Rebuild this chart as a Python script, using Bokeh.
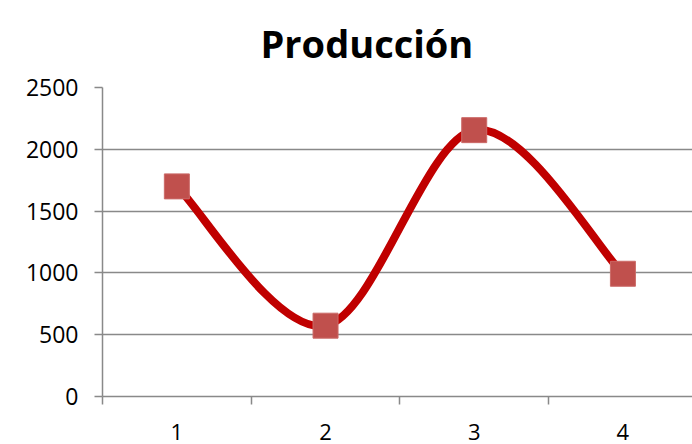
import numpy as np
from bokeh.plotting import figure
from bokeh.models import FixedTicker, Range1d
from bokeh.embed import file_html
from bokeh.resources import INLINE

# ---- data ----
categories = ["1", "2", "3", "4"]
produccion = [1700, 573, 2155, 993]
y_ticks = [0, 500, 1000, 1500, 2000, 2500]
title_text = "Producción"

x = np.arange(1, len(categories) + 1, dtype=float)
y = np.array(produccion, dtype=float)

GRAY = "#898989"
FONT = "Open Sans"

p = figure(width=692, height=444, output_backend="svg", toolbar_location=None,
           x_range=Range1d(0.5, 4.468), y_range=Range1d(0, 2500),
           min_border_left=102, min_border_right=0, min_border_top=86,
           min_border_bottom=48)
p.outline_line_color = None
p.background_fill_color = "white"
p.border_fill_color = "white"

# title
p.title.text = title_text
p.title.text_font = FONT
p.title.text_font_style = "bold"
p.title.text_font_size = "38px"
p.title.text_color = "black"
p.title.align = "left"
p.title.offset = 158
p.title.vertical_align = "top"
p.title.standoff = 33

# grid
p.xgrid.visible = False
p.ygrid.grid_line_color = GRAY
p.ygrid.grid_line_width = 1.5

# y axis
p.yaxis.ticker = FixedTicker(ticks=y_ticks)
p.yaxis.axis_line_color = GRAY
p.yaxis.axis_line_width = 1.5
p.yaxis.major_tick_line_color = GRAY
p.yaxis.major_tick_line_width = 1.5
p.yaxis.major_tick_out = 8
p.yaxis.major_tick_in = 0
p.yaxis.minor_tick_line_color = None
p.yaxis.major_label_text_font = FONT
p.yaxis.major_label_text_font_size = "23px"
p.yaxis.major_label_text_color = "black"
p.yaxis.major_label_standoff = 16

# x axis: labels at categories, tick marks between them
p.xaxis.ticker = FixedTicker(ticks=list(x), minor_ticks=list(np.arange(0.5, len(categories) + 1, 1.0)))
p.xaxis.major_label_overrides = {int(v): c for v, c in zip(x, categories)}
p.xaxis.axis_line_color = GRAY
p.xaxis.axis_line_width = 1.5
p.xaxis.major_tick_line_color = None
p.xaxis.major_tick_out = 0
p.xaxis.major_tick_in = 0
p.xaxis.minor_tick_line_color = GRAY
p.xaxis.minor_tick_line_width = 1.5
p.xaxis.minor_tick_out = 8
p.xaxis.minor_tick_in = 0
p.xaxis.major_label_text_font = FONT
p.xaxis.major_label_text_font_size = "22px"
p.xaxis.major_label_text_color = "black"
p.xaxis.major_label_standoff = 19

# smoothed line (Catmull-Rom -> cubic Bezier control points, drawn by Bokeh)
n = len(x)
x0s, y0s, x1s, y1s, cx0s, cy0s, cx1s, cy1s = [], [], [], [], [], [], [], []
for i in range(n - 1):
    pa = i - 1 if i > 0 else i
    pd = i + 2 if i + 2 < n else i + 1
    x0s.append(x[i]); y0s.append(y[i])
    x1s.append(x[i + 1]); y1s.append(y[i + 1])
    cx0s.append(x[i] + (x[i + 1] - x[pa]) / 6.0)
    cy0s.append(y[i] + (y[i + 1] - y[pa]) / 6.0)
    cx1s.append(x[i + 1] - (x[pd] - x[i]) / 6.0)
    cy1s.append(y[i + 1] - (y[pd] - y[i]) / 6.0)

p.bezier(x0=x0s, y0=y0s, x1=x1s, y1=y1s, cx0=cx0s, cy0=cy0s, cx1=cx1s, cy1=cy1s,
         line_color="#C00000", line_width=8, line_cap="round")

p.scatter(x, y, marker="square", size=25, fill_color="#C0504D",
          line_color="#CB6B68", line_width=1)

open("out.html", "w").write(file_html(p, INLINE))
